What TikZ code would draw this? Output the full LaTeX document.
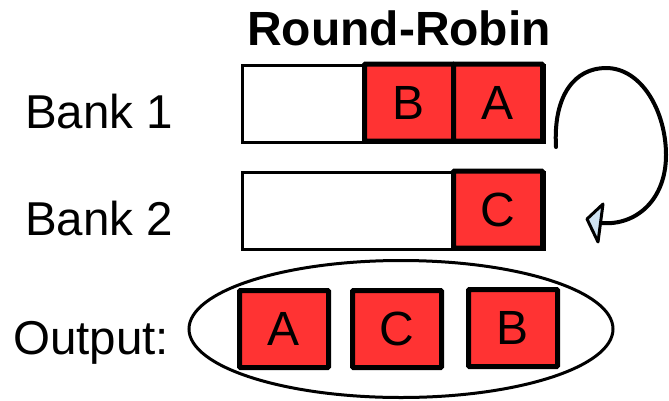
\documentclass[tikz,border=0pt]{standalone}
\usepackage{fontspec}
\setmainfont{Liberation Sans}
\usetikzlibrary{shapes.geometric}
\begin{document}
\begin{tikzpicture}[x=1pt,y=-1pt,
  label/.style={font=\fontsize{47.5}{52}\selectfont, inner sep=0pt, anchor=base west},
  bar/.style={draw=black, line width=3pt, fill=white, inner sep=0pt, minimum width=302pt, minimum height=77pt, anchor=north west},
  item/.style={draw=black, line width=5pt, fill=itemred, inner sep=0pt, minimum width=89pt, minimum height=77pt,
    font=\fontsize{48}{52}\selectfont, rounded corners=1pt},
]
\definecolor{itemred}{HTML}{FF3333}
\definecolor{tipblue}{HTML}{CFE3F2}
\useasboundingbox (0,0) rectangle (669,400);

% title
\node[font=\bfseries\fontsize{48}{52}\selectfont, inner sep=0pt, anchor=base] (title) at (399,45) {Round-Robin};

% bank labels
\node[label] (bank1) at (25,128) {Bank 1};
\node[label] (bank2) at (25,235) {Bank 2};
\node[label] (outlabel) at (13,354) {Output:};

% bank queues
\node[bar] (q1) at (241,64) {};
\node[bar] (q2) at (241,171) {};
\node[item] (b1B) at (409,102.5) {B};
\node[item] (b1A) at (498,102.5) {A};
\node[item] (b2C) at (498,209.5) {C};

% output
\node[draw=black, line width=3pt, ellipse, minimum width=424pt, minimum height=137pt, inner sep=0pt] (outset) at (401,329) {};
\node[item] (oA) at (284,329) {A};
\node[item] (oC) at (397,329) {C};
\node[item] (oB) at (513,328) {B};

% round-robin switch arrow
\coordinate (arcstart) at (556,147);
\coordinate (arcend) at (601,223);
\coordinate (tipa) at (603,204);
\coordinate (tipb) at (587,219);
\coordinate (tipc) at (598,242);
\draw[line width=4pt, line cap=round] (arcstart)
  .. controls (553,95) and (575,68) .. (606,68)
  .. controls (642,68) and (666,112) .. (666,155)
  .. controls (666,200) and (636,226) .. (arcend);
\draw[line width=3pt, line join=round, fill=tipblue] (tipa) -- (tipb) -- (tipc) -- cycle;
\end{tikzpicture}
\end{document}
